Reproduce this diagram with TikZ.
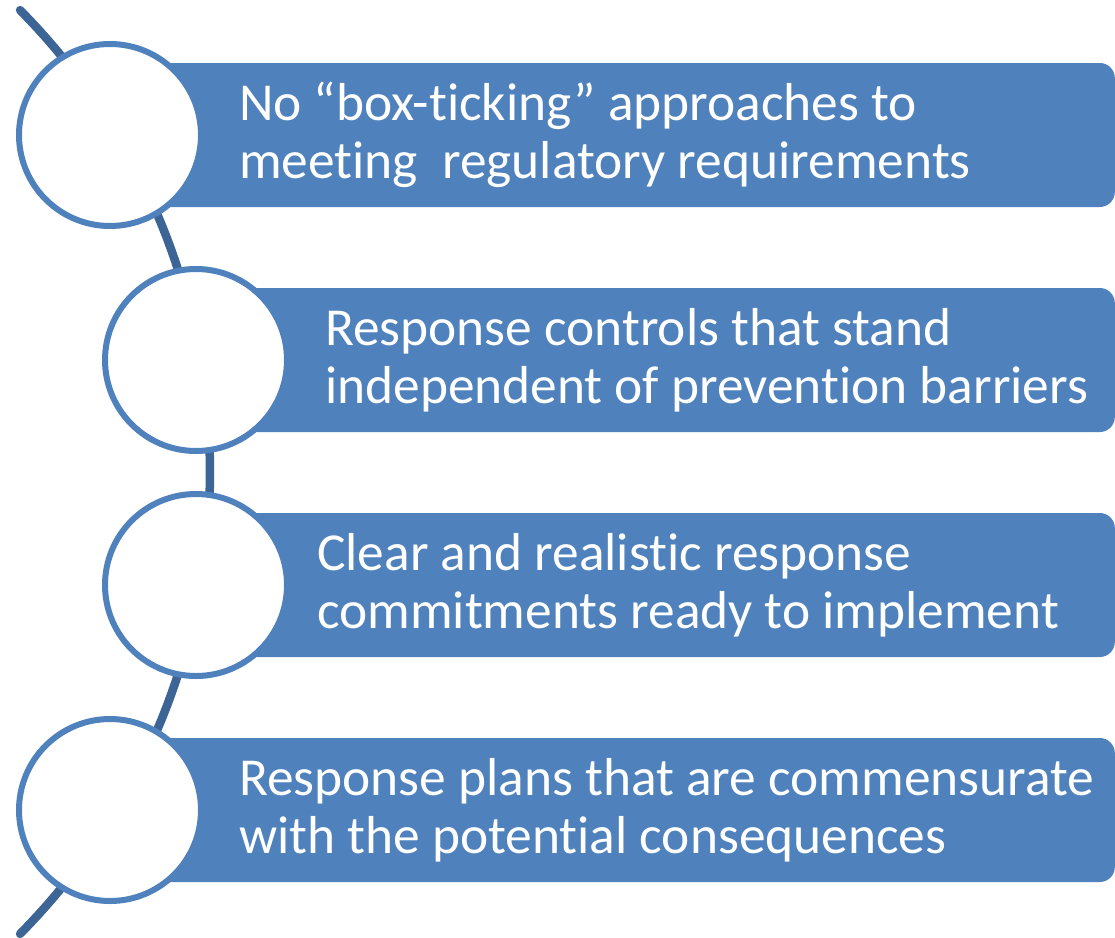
\documentclass[tikz,border=0pt]{standalone}
\usepackage{fontspec}
\setmainfont{Carlito}[Ligatures=NoCommon]
\definecolor{boxblue}{HTML}{4F81BD}
\definecolor{arcblue}{HTML}{3C6595}
\begin{document}
\begin{tikzpicture}[x=1pt,y=-1pt,
  bar/.style={fill=boxblue, draw=none, rounded corners=15pt, minimum height=144pt, inner sep=0pt, anchor=east},
  ring/.style={circle, draw=boxblue, fill=white, line width=6pt, minimum size=182pt, inner sep=0pt},
  label/.style={anchor=base west, align=left, inner sep=0pt, text=white, font=\fontsize{53.4}{57.5}\selectfont}]
\useasboundingbox (0,0) rectangle (1115,937);
% backbone arc
\coordinate (top) at (20,10);
\coordinate (bot) at (20,934);
\draw[arcblue, line width=8.5pt, line cap=round]
  plot[domain=-44.7:44.7, samples=80] ({-446.7+656.7*cos(\x)}, {472+656.7*sin(\x)});
% bars
\node[bar, minimum width=1005pt] (b1) at (1115,135) {};
\node[bar, minimum width=919pt] (b2) at (1115,360) {};
\node[bar, minimum width=919pt] (b3) at (1115,585) {};
\node[bar, minimum width=1005pt] (b4) at (1115,810) {};
% circles
\node[ring] (c1) at (110,135) {};
\node[ring] (c2) at (196,360) {};
\node[ring] (c3) at (196,585) {};
\node[ring] (c4) at (110,810) {};
% texts
\node[label] (t1) at (239,178) {No “box-ticking” approaches to\\meeting\ \ regulatory requirements};
\node[label] (t2) at (325,403) {Response controls that stand\\independent of prevention barriers};
\node[label] (t3) at (317,628) {Clear and realistic response\\commitments ready to implement};
\node[label] (t4) at (239,853) {Response plans that are commensurate\\with the potential consequences};
\end{tikzpicture}
\end{document}
